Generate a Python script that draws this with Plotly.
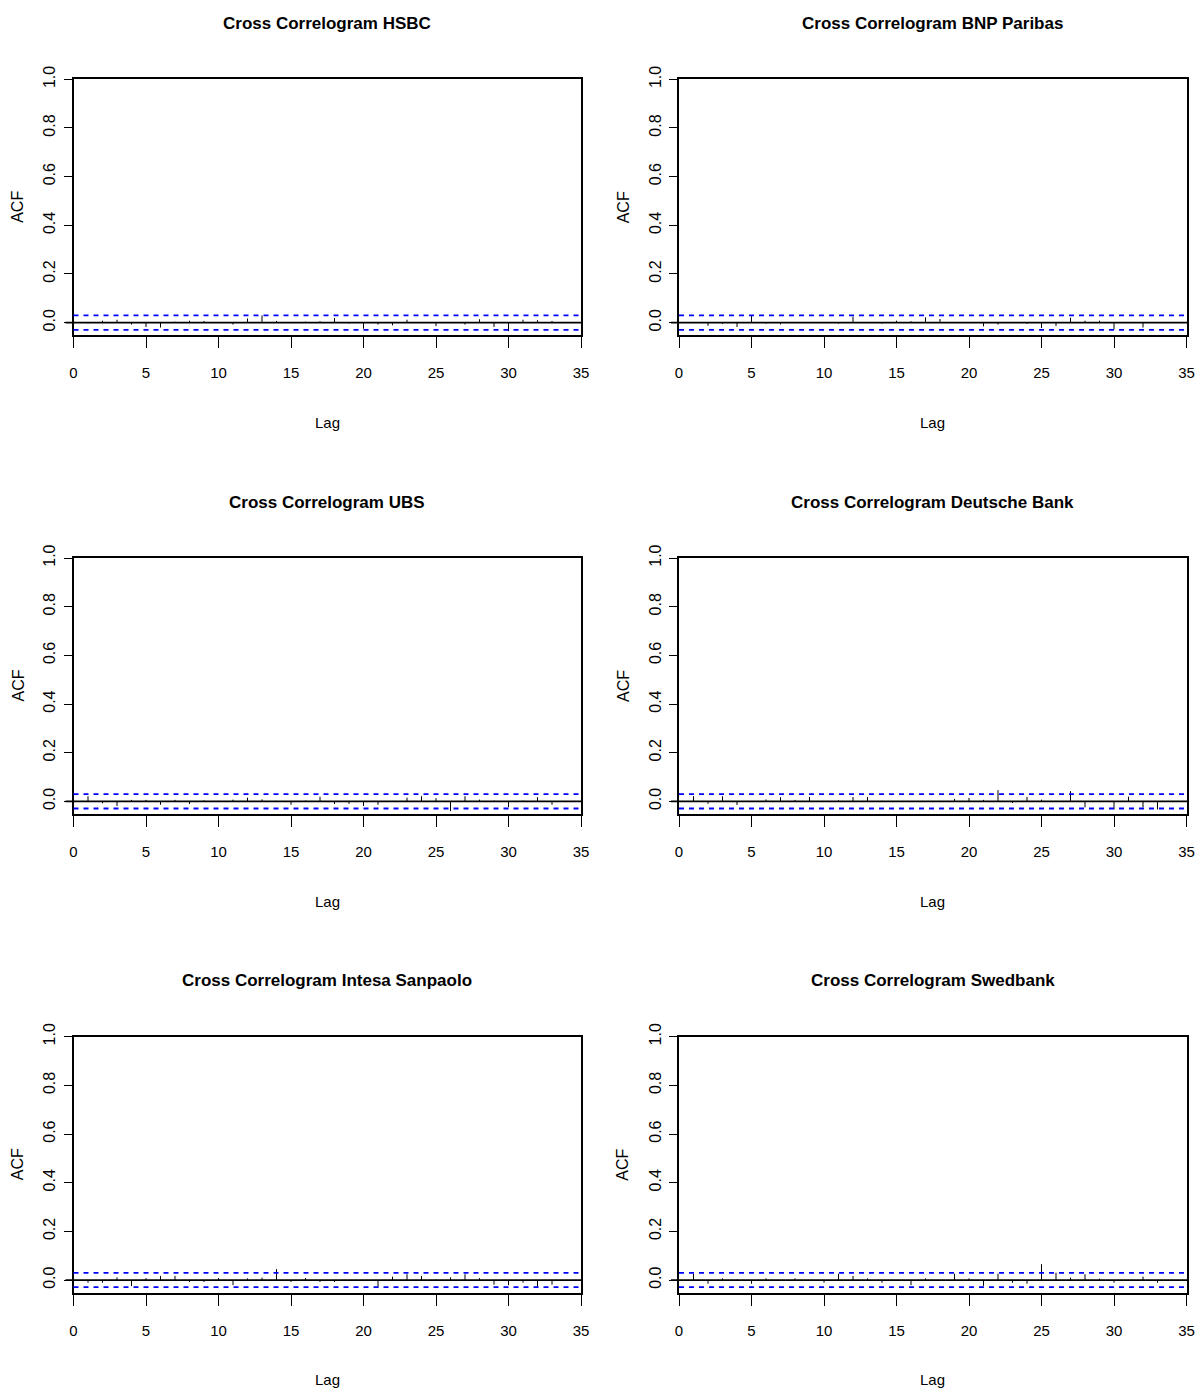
import plotly.graph_objects as go

W, H = 1202, 1392

lags = list(range(0, 35))
banks = ["HSBC", "BNP Paribas", "UBS", "Deutsche Bank", "Intesa Sanpaolo", "Swedbank"]

acf_hsbc = [0.000, -0.003, 0.008, 0.012, -0.008, -0.018, -0.020, 0.004, 0.008, 0.007,
            0.002, -0.008, 0.017, 0.030, 0.007, -0.002, 0.004, 0.006, 0.019, -0.004,
            -0.025, -0.008, -0.011, 0.012, 0.002, -0.014, 0.003, -0.008, 0.014, -0.018,
            -0.035, 0.012, 0.010, 0.007, -0.002]
acf_bnp = [0.000, -0.002, -0.013, -0.005, -0.018, 0.029, -0.004, -0.007, 0.000, 0.002,
           -0.002, -0.004, 0.025, 0.002, -0.004, 0.008, 0.006, 0.022, 0.015, 0.000,
           0.002, -0.015, -0.008, 0.002, -0.005, -0.022, -0.014, 0.020, 0.008, 0.008,
           -0.028, 0.002, -0.020, 0.000, 0.000]
acf_ubs = [0.000, 0.021, -0.008, -0.019, 0.006, 0.006, -0.014, 0.006, -0.011, 0.004,
           0.002, 0.007, 0.015, 0.008, 0.002, -0.014, 0.003, 0.019, -0.011, -0.010,
           -0.019, -0.014, 0.002, 0.015, 0.021, 0.013, -0.040, 0.021, 0.007, 0.003,
           -0.024, 0.003, 0.017, -0.014, 0.000]
acf_deutsche = [0.000, 0.021, -0.010, 0.021, -0.015, -0.002, 0.008, 0.017, 0.006, 0.018,
                0.000, 0.004, 0.018, 0.018, 0.002, 0.000, 0.000, -0.002, 0.002, 0.010,
                0.014, 0.006, 0.046, -0.007, 0.018, 0.007, 0.002, 0.042, -0.025, 0.002,
                -0.033, 0.019, -0.025, -0.033, 0.000]
acf_intesa = [0.000, -0.011, -0.011, 0.011, -0.025, 0.008, 0.017, 0.017, -0.008, -0.008,
              0.008, -0.021, 0.007, 0.010, 0.045, -0.008, 0.008, -0.008, -0.008, -0.002,
              0.000, -0.030, 0.014, 0.024, 0.017, 0.002, 0.011, 0.024, 0.008, -0.019,
              -0.021, -0.011, -0.030, -0.019, 0.000]
acf_swedbank = [0.000, 0.026, -0.015, 0.007, 0.002, -0.015, 0.007, 0.000, 0.007, 0.000,
                -0.011, 0.026, 0.017, 0.007, -0.011, -0.002, -0.021, 0.007, 0.000, 0.026,
                0.007, -0.024, 0.026, -0.011, -0.015, 0.065, 0.030, 0.010, 0.024, 0.006,
                -0.011, 0.000, 0.014, -0.011, 0.000]

series = [acf_hsbc, acf_bnp, acf_ubs, acf_deutsche, acf_intesa, acf_swedbank]
conf_limit = 0.0295

x_ticks = [0, 5, 10, 15, 20, 25, 30, 35]
y_ticks = [0.0, 0.2, 0.4, 0.6, 0.8, 1.0]
y_tick_labels = ["0.0", "0.2", "0.4", "0.6", "0.8", "1.0"]
x_range = [0, 35]
y_range = [-0.052, 1.0]

FONT = "Liberation Sans, Arial, Helvetica, sans-serif"

# layout geometry (pixels)
col_px = [(73.5, 581.0), (679.0, 1186.5)]
row_px = [(79.3, 335.3), (558.0, 814.0), (1036.7, 1292.7)]

fig = go.Figure()
annotations = []
shapes = []
layout_axes = {}

for i, (bank, vals) in enumerate(zip(banks, series)):
    r, c = divmod(i, 2)
    n = i + 1
    sfx = "" if n == 1 else str(n)
    xa, ya = "x" + sfx, "y" + sfx
    x0p, x1p = col_px[c]
    y0p, y1p = row_px[r]

    # spikes
    xs, ys = [], []
    for lag, v in zip(lags, vals):
        xs += [lag, lag, None]
        ys += [0, v, None]
    fig.add_trace(go.Scatter(x=xs, y=ys, mode="lines", xaxis=xa, yaxis=ya,
                             line=dict(color="black", width=1), showlegend=False,
                             hoverinfo="skip"))

    # zero line (extends a little to the left of the box)
    shapes.append(dict(type="line", xref=xa + " domain", yref=ya,
                       x0=-8 / (x1p - x0p), x1=1 + 2 / (x1p - x0p), y0=0, y1=0,
                       line=dict(color="black", width=1.8), layer="above"))
    # confidence limits
    for cl in (conf_limit, -conf_limit):
        shapes.append(dict(type="line", xref=xa + " domain", yref=ya,
                           x0=0, x1=1, y0=cl, y1=cl,
                           line=dict(color="#0000FF", width=1.8, dash="5px,5px"),
                           layer="above"))

    layout_axes["xaxis" + sfx] = dict(
        domain=[x0p / W, x1p / W], range=x_range, anchor=ya,
        tickmode="array", tickvals=x_ticks, ticktext=[str(t) for t in x_ticks],
        ticks="outside", ticklen=11, tickwidth=1.3, tickcolor="black",
        showline=True, linecolor="black", linewidth=1.6, mirror=True,
        showgrid=False, zeroline=False, ticklabelstandoff=12, automargin=False,
        tickfont=dict(family=FONT, size=15, color="black"),
    )
    layout_axes["yaxis" + sfx] = dict(
        domain=[1 - y1p / H, 1 - y0p / H], range=y_range, anchor=xa,
        tickmode="array", tickvals=y_ticks, ticktext=y_tick_labels,
        ticks="outside", ticklen=8, tickwidth=1.3, tickcolor="black",
        showline=True, linecolor="black", linewidth=1.6, mirror=True,
        showgrid=False, zeroline=False, tickangle=-90, ticklabelstandoff=2,
        automargin=False,
        tickfont=dict(family=FONT, size=16, color="black"),
    )

    cx = (x0p + x1p) / 2
    # title
    annotations.append(dict(text="Cross Correlogram " + bank, xref="paper", yref="paper",
                            x=cx / W, y=1 - (y0p - 56) / H, xanchor="center", yanchor="middle",
                            showarrow=False,
                            font=dict(family=FONT, size=17, color="black", weight="bold")))
    # x label
    annotations.append(dict(text="Lag", xref="paper", yref="paper",
                            x=cx / W, y=1 - (y1p + 87) / H, xanchor="center", yanchor="middle",
                            showarrow=False,
                            font=dict(family=FONT, size=15, color="black")))
    # y label
    annotations.append(dict(text="ACF", xref="paper", yref="paper",
                            x=(x0p - 56) / W, y=1 - ((y0p + y1p) / 2) / H,
                            xanchor="center", yanchor="middle", textangle=-90,
                            showarrow=False,
                            font=dict(family=FONT, size=16, color="black")))

fig.update_layout(width=W, height=H,
                  margin=dict(l=0, r=0, t=0, b=0, autoexpand=False),
                  paper_bgcolor="white", plot_bgcolor="white",
                  annotations=annotations, shapes=shapes, **layout_axes)

fig.write_html("out.html")
